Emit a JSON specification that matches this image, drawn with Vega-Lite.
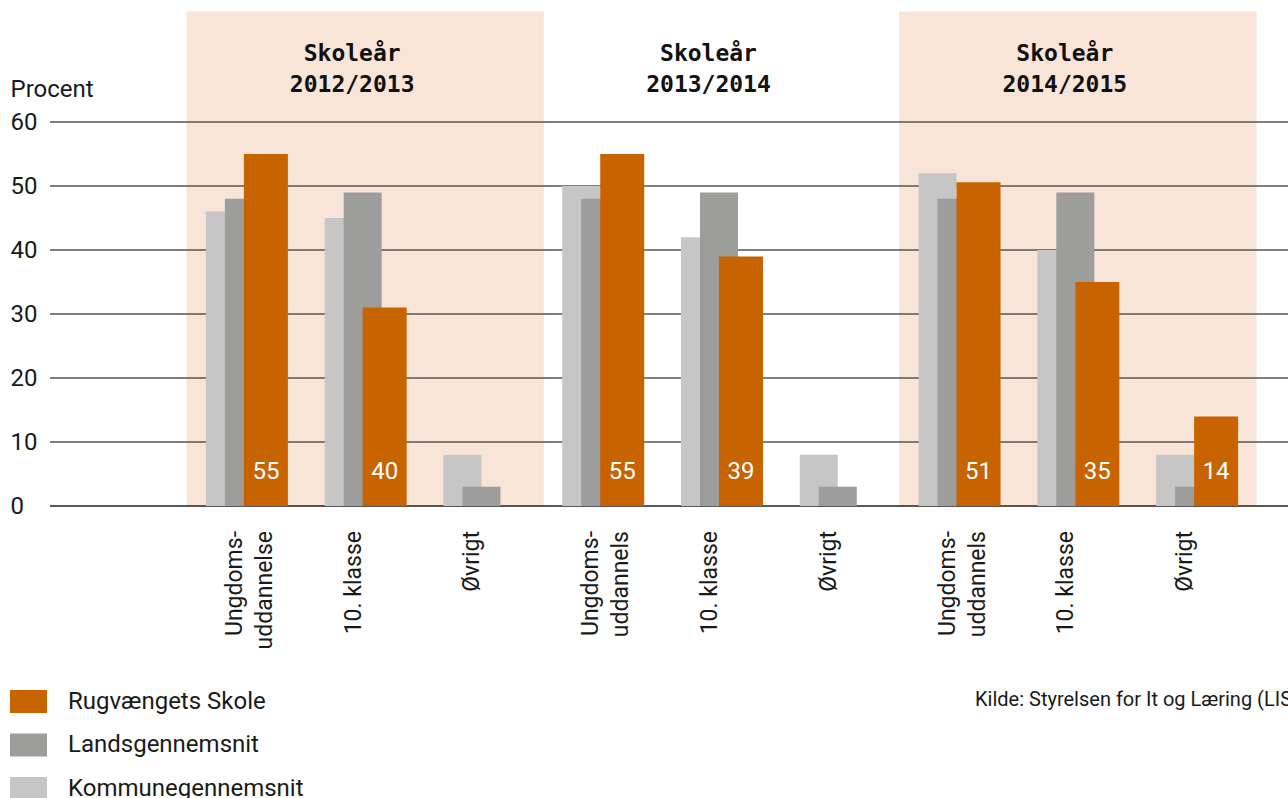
{
  "$schema": "https://vega.github.io/schema/vega-lite/v6.json",
  "width": 1238,
  "height": 494,
  "autosize": "none",
  "padding": {"left": 50, "top": 12, "right": 0, "bottom": 292},
  "background": "white",
  "config": {
    "view": {"stroke": null},
    "font": "Roboto",
    "axisY": {
      "domain": false, "ticks": false, "tickSize": 0, "grid": false,
      "labelAlign": "left", "labelPadding": 40, "labelFont": "Roboto", "labelFontSize": 24,
      "labelColor": "#1a1a1a", "labelBaseline": "middle",
      "titleFont": "Roboto", "titleFontSize": 24, "titleFontWeight": "normal", "titleColor": "#1a1a1a",
      "titleAngle": 0, "titleAlign": "left", "titleBaseline": "alphabetic", "titleX": -40, "titleY": 84
    }
  },
  "datasets": {
    "cats": [
      {"key": "2012/2013|Ungdom", "year": "2012/2013", "label": "Ungdoms-\nuddannelse", "shaded": true, "title": null},
      {"key": "2012/2013|10", "year": "2012/2013", "label": "10. klasse", "shaded": true, "title": "Skoleår\n2012/2013"},
      {"key": "2012/2013|Ovr", "year": "2012/2013", "label": "Øvrigt", "shaded": true, "title": null},
      {"key": "2013/2014|Ungdom", "year": "2013/2014", "label": "Ungdoms-\nuddannels", "shaded": false, "title": null},
      {"key": "2013/2014|10", "year": "2013/2014", "label": "10. klasse", "shaded": false, "title": "Skoleår\n2013/2014"},
      {"key": "2013/2014|Ovr", "year": "2013/2014", "label": "Øvrigt", "shaded": false, "title": null},
      {"key": "2014/2015|Ungdom", "year": "2014/2015", "label": "Ungdoms-\nuddannels", "shaded": true, "title": null},
      {"key": "2014/2015|10", "year": "2014/2015", "label": "10. klasse", "shaded": true, "title": "Skoleår\n2014/2015"},
      {"key": "2014/2015|Ovr", "year": "2014/2015", "label": "Øvrigt", "shaded": true, "title": null}
    ],
    "bars": [
      {"key": "2012/2013|Ungdom", "series": "Kommunegennemsnit", "value": 46, "label": null},
      {"key": "2012/2013|Ungdom", "series": "Landsgennemsnit", "value": 48, "label": null},
      {"key": "2012/2013|Ungdom", "series": "Rugvængets Skole", "value": 55, "label": "55"},
      {"key": "2012/2013|10", "series": "Kommunegennemsnit", "value": 45, "label": null},
      {"key": "2012/2013|10", "series": "Landsgennemsnit", "value": 49, "label": null},
      {"key": "2012/2013|10", "series": "Rugvængets Skole", "value": 31, "label": "40"},
      {"key": "2012/2013|Ovr", "series": "Kommunegennemsnit", "value": 8, "label": null},
      {"key": "2012/2013|Ovr", "series": "Landsgennemsnit", "value": 3, "label": null},
      {"key": "2013/2014|Ungdom", "series": "Kommunegennemsnit", "value": 50, "label": null},
      {"key": "2013/2014|Ungdom", "series": "Landsgennemsnit", "value": 48, "label": null},
      {"key": "2013/2014|Ungdom", "series": "Rugvængets Skole", "value": 55, "label": "55"},
      {"key": "2013/2014|10", "series": "Kommunegennemsnit", "value": 42, "label": null},
      {"key": "2013/2014|10", "series": "Landsgennemsnit", "value": 49, "label": null},
      {"key": "2013/2014|10", "series": "Rugvængets Skole", "value": 39, "label": "39"},
      {"key": "2013/2014|Ovr", "series": "Kommunegennemsnit", "value": 8, "label": null},
      {"key": "2013/2014|Ovr", "series": "Landsgennemsnit", "value": 3, "label": null},
      {"key": "2014/2015|Ungdom", "series": "Kommunegennemsnit", "value": 52, "label": null},
      {"key": "2014/2015|Ungdom", "series": "Landsgennemsnit", "value": 48, "label": null},
      {"key": "2014/2015|Ungdom", "series": "Rugvængets Skole", "value": 50.6, "label": "51"},
      {"key": "2014/2015|10", "series": "Kommunegennemsnit", "value": 40, "label": null},
      {"key": "2014/2015|10", "series": "Landsgennemsnit", "value": 49, "label": null},
      {"key": "2014/2015|10", "series": "Rugvængets Skole", "value": 35, "label": "35"},
      {"key": "2014/2015|Ovr", "series": "Kommunegennemsnit", "value": 8, "label": null},
      {"key": "2014/2015|Ovr", "series": "Landsgennemsnit", "value": 3, "label": null},
      {"key": "2014/2015|Ovr", "series": "Rugvængets Skole", "value": 14, "label": "14"}
    ],
    "grid": [{"tick": 0}, {"tick": 10}, {"tick": 20}, {"tick": 30}, {"tick": 40}, {"tick": 50}, {"tick": 60}],
    "note": [{"key": "2014/2015|Ungdom", "text": "Kilde: Styrelsen for It og Læring (LIS)"}]
  },
  "layer": [
    {
      "data": {"name": "cats"},
      "transform": [{"filter": "datum.shaded"}],
      "mark": {"type": "rect", "fill": "#f8e5d8", "stroke": "#f8e5d8", "strokeWidth": 1},
      "encoding": {
        "x": {"field": "key", "type": "nominal", "axis": null,
              "scale": {"domain": ["2012/2013|Ungdom","2012/2013|10","2012/2013|Ovr","2013/2014|Ungdom","2013/2014|10","2013/2014|Ovr","2014/2015|Ungdom","2014/2015|10","2014/2015|Ovr"], "range": [137, 1206], "paddingInner": 0, "paddingOuter": 0}},
        "y": {"datum": 0, "type": "quantitative", "scale": {"domain": [0, 77.19], "nice": false}},
        "y2": {"datum": 77.19}
      }
    },
    {
      "data": {"name": "grid"},
      "mark": {"type": "rule", "strokeWidth": 1.5},
      "encoding": {
        "y": {"field": "tick", "type": "quantitative", "scale": {"domain": [0, 77.19], "nice": false},
              "axis": {"values": [0, 10, 20, 30, 40, 50, 60], "title": "Procent"}},
        "color": {"condition": {"test": "datum.tick === 0", "value": "#222222"}, "value": "#555555"}
      }
    },
    {
      "data": {"name": "bars"},
      "transform": [{"filter": "datum.series === 'Kommunegennemsnit'"}],
      "mark": {"type": "bar", "width": 38, "xOffset": -21.5},
      "encoding": {
        "x": {"field": "key", "type": "nominal", "axis": null,
              "scale": {"domain": ["2012/2013|Ungdom","2012/2013|10","2012/2013|Ovr","2013/2014|Ungdom","2013/2014|10","2013/2014|Ovr","2014/2015|Ungdom","2014/2015|10","2014/2015|Ovr"], "range": [137, 1206], "paddingInner": 0, "paddingOuter": 0}},
        "y": {"field": "value", "type": "quantitative", "scale": {"domain": [0, 77.19], "nice": false},
              "axis": {"values": [0, 10, 20, 30, 40, 50, 60], "title": "Procent"}},
        "color": {"field": "series", "type": "nominal",
                  "scale": {"domain": ["Rugvængets Skole", "Landsgennemsnit", "Kommunegennemsnit"], "range": ["#c86400", "#9d9d9c", "#c6c6c6"]},
                  "legend": {"orient": "none", "legendX": -40, "legendY": 671, "title": null,
                             "symbolType": "M-1,-0.62H1V0.62H-1Z", "symbolSize": 1369, "symbolStrokeWidth": 0, "labelLimit": 500,
                             "labelFont": "Roboto", "labelFontSize": 24, "labelColor": "#1a1a1a", "labelOffset": 21, "rowPadding": 12.5}}
      }
    },
    {
      "data": {"name": "bars"},
      "transform": [{"filter": "datum.series === 'Landsgennemsnit'"}],
      "mark": {"type": "bar", "width": 38, "xOffset": -2.5},
      "encoding": {
        "x": {"field": "key", "type": "nominal", "axis": null,
              "scale": {"domain": ["2012/2013|Ungdom","2012/2013|10","2012/2013|Ovr","2013/2014|Ungdom","2013/2014|10","2013/2014|Ovr","2014/2015|Ungdom","2014/2015|10","2014/2015|Ovr"], "range": [137, 1206], "paddingInner": 0, "paddingOuter": 0}},
        "y": {"field": "value", "type": "quantitative", "scale": {"domain": [0, 77.19], "nice": false},
              "axis": {"values": [0, 10, 20, 30, 40, 50, 60], "title": "Procent"}},
        "color": {"field": "series", "type": "nominal",
                  "scale": {"domain": ["Rugvængets Skole", "Landsgennemsnit", "Kommunegennemsnit"], "range": ["#c86400", "#9d9d9c", "#c6c6c6"]},
                  "legend": {"orient": "none", "legendX": -40, "legendY": 671, "title": null,
                             "symbolType": "M-1,-0.62H1V0.62H-1Z", "symbolSize": 1369, "symbolStrokeWidth": 0, "labelLimit": 500,
                             "labelFont": "Roboto", "labelFontSize": 24, "labelColor": "#1a1a1a", "labelOffset": 21, "rowPadding": 12.5}}
      }
    },
    {
      "data": {"name": "bars"},
      "transform": [{"filter": "datum.series === 'Rugvængets Skole'"}],
      "mark": {"type": "bar", "width": 44, "xOffset": 19.5},
      "encoding": {
        "x": {"field": "key", "type": "nominal", "axis": null,
              "scale": {"domain": ["2012/2013|Ungdom","2012/2013|10","2012/2013|Ovr","2013/2014|Ungdom","2013/2014|10","2013/2014|Ovr","2014/2015|Ungdom","2014/2015|10","2014/2015|Ovr"], "range": [137, 1206], "paddingInner": 0, "paddingOuter": 0}},
        "y": {"field": "value", "type": "quantitative", "scale": {"domain": [0, 77.19], "nice": false},
              "axis": {"values": [0, 10, 20, 30, 40, 50, 60], "title": "Procent"}},
        "color": {"field": "series", "type": "nominal",
                  "scale": {"domain": ["Rugvængets Skole", "Landsgennemsnit", "Kommunegennemsnit"], "range": ["#c86400", "#9d9d9c", "#c6c6c6"]},
                  "legend": {"orient": "none", "legendX": -40, "legendY": 671, "title": null,
                             "symbolType": "M-1,-0.62H1V0.62H-1Z", "symbolSize": 1369, "symbolStrokeWidth": 0, "labelLimit": 500,
                             "labelFont": "Roboto", "labelFontSize": 24, "labelColor": "#1a1a1a", "labelOffset": 21, "rowPadding": 12.5}}
      }
    },
    {
      "data": {"name": "bars"},
      "transform": [{"filter": "datum.label != null"}],
      "mark": {"type": "text", "color": "white", "font": "Roboto", "fontSize": 24, "align": "center", "baseline": "alphabetic", "xOffset": 19.5, "yOffset": -27},
      "encoding": {
        "x": {"field": "key", "type": "nominal", "axis": null,
              "scale": {"domain": ["2012/2013|Ungdom","2012/2013|10","2012/2013|Ovr","2013/2014|Ungdom","2013/2014|10","2013/2014|Ovr","2014/2015|Ungdom","2014/2015|10","2014/2015|Ovr"], "range": [137, 1206], "paddingInner": 0, "paddingOuter": 0}},
        "y": {"datum": 0, "type": "quantitative"},
        "text": {"field": "label"}
      }
    },
    {
      "data": {"name": "cats"},
      "transform": [{"filter": "datum.title != null"}],
      "mark": {"type": "text", "color": "#111111", "font": "DejaVu Sans Mono", "fontWeight": "bold", "fontSize": 23, "align": "center", "baseline": "alphabetic", "lineBreak": "\n", "lineHeight": 31, "xOffset": -13},
      "encoding": {
        "x": {"field": "key", "type": "nominal", "axis": null,
              "scale": {"domain": ["2012/2013|Ungdom","2012/2013|10","2012/2013|Ovr","2013/2014|Ungdom","2013/2014|10","2013/2014|Ovr","2014/2015|Ungdom","2014/2015|10","2014/2015|Ovr"], "range": [137, 1206], "paddingInner": 0, "paddingOuter": 0}},
        "y": {"datum": 69.5, "type": "quantitative"},
        "text": {"field": "title"}
      }
    },
    {
      "data": {"name": "cats"},
      "mark": {"type": "text", "color": "#1a1a1a", "font": "Roboto", "fontSize": 23, "angle": 270, "align": "right", "baseline": "middle", "lineBreak": "\n", "lineHeight": 30, "xOffset": -11.5, "yOffset": 25},
      "encoding": {
        "x": {"field": "key", "type": "nominal", "axis": null,
              "scale": {"domain": ["2012/2013|Ungdom","2012/2013|10","2012/2013|Ovr","2013/2014|Ungdom","2013/2014|10","2013/2014|Ovr","2014/2015|Ungdom","2014/2015|10","2014/2015|Ovr"], "range": [137, 1206], "paddingInner": 0, "paddingOuter": 0}},
        "y": {"datum": 0, "type": "quantitative"},
        "text": {"field": "label"}
      }
    },
    {
      "data": {"name": "note"},
      "mark": {"type": "text", "color": "#1a1a1a", "font": "Roboto", "fontSize": 20, "align": "left", "baseline": "alphabetic", "xOffset": 16, "yOffset": 200},
      "encoding": {
        "x": {"field": "key", "type": "nominal", "axis": null,
              "scale": {"domain": ["2012/2013|Ungdom","2012/2013|10","2012/2013|Ovr","2013/2014|Ungdom","2013/2014|10","2013/2014|Ovr","2014/2015|Ungdom","2014/2015|10","2014/2015|Ovr"], "range": [137, 1206], "paddingInner": 0, "paddingOuter": 0}},
        "y": {"datum": 0, "type": "quantitative"},
        "text": {"field": "text"}
      }
    }
  ]
}
